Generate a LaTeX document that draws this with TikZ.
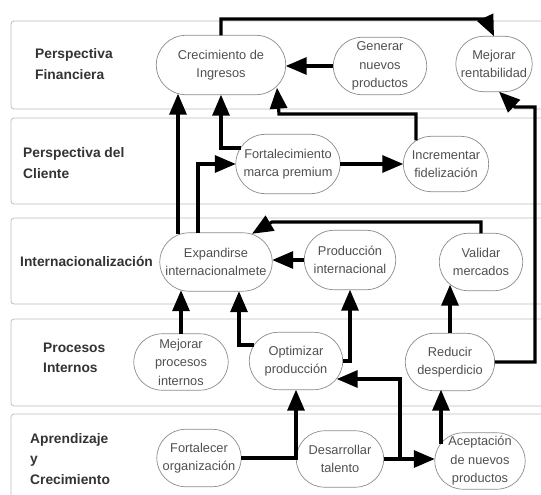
\documentclass[tikz,border=0pt]{standalone}
\usepackage{fontspec}
\setmainfont{Liberation Sans}
\usetikzlibrary{arrows.meta,calc}
\definecolor{lanegray}{HTML}{BDBDBD}
\definecolor{nodegray}{HTML}{8C8C8C}
\definecolor{txtgray}{HTML}{505050}
\definecolor{lanetxt}{HTML}{333333}

% stadium outline round a goal node
\newcommand\stadium[1]{%
  \draw[goalline] let \p1=(#1.north west), \p2=(#1.south east), \n1={(\y1-\y2)/2} in
    (\x1+\n1,\y1) -- (\x2-\n1,\y1) arc[start angle=90,end angle=-90,radius=\n1]
    -- (\x1+\n1,\y2) arc[start angle=270,end angle=90,radius=\n1] -- cycle;}

\begin{document}
\begin{tikzpicture}[x=1pt,y=-1pt,
    lane/.style={draw=lanegray,line width=0.8pt,rounded corners=3pt,fill=white},
    lanelabel/.style={anchor=west,align=left,inner sep=0pt,text=lanetxt,
        font={\fontsize{13.8}{20.5}\selectfont\bfseries}},
    goal/.style={align=center,inner sep=1pt,text=txtgray,
        font={\fontsize{12.8}{18.5}\selectfont}},
    goalline/.style={draw=nodegray,line width=0.7pt},
    flow/.style={line width=3.2pt,-{Triangle[length=21pt,width=17pt]}},
    ]
    \clip (0,0) rectangle (541,495);

    % Lanes
    \draw[lane] (11,21) rectangle (560,109);
    \draw[lane] (11,118) rectangle (560,204);
    \draw[lane] (11,218) rectangle (560,304);
    \draw[lane] (11,319) rectangle (560,406);
    \draw[lane] (11,414) rectangle (560,520);

    \node[lanelabel] (fin) at (35,64) {Perspectiva\\Financiera};
    \node[lanelabel] (cli) at (23,163) {Perspectiva del\\Cliente};
    \node[lanelabel] (int) at (20,262) {Internacionalización};
    \node[lanelabel] (pro) at (43,358) {Procesos\\Internos};
    \node[lanelabel] (apr) at (30,459) {Aprendizaje\\y\\Crecimiento};

    % Goals
    \node[goal,minimum width=129pt,minimum height=59pt] (crec) at (221,65) {Crecimiento de\\Ingresos};
    \node[goal,minimum width=93pt,minimum height=57pt] (gen) at (380,66) {Generar\\nuevos\\productos};
    \node[goal,minimum width=76pt,minimum height=55pt] (mej) at (494,64) {Mejorar\\rentabilidad};

    \node[goal,minimum width=104pt,minimum height=59pt] (fort) at (288,164) {Fortalecimiento\\marca premium};
    \node[goal,minimum width=85pt,minimum height=55pt] (incr) at (446,164) {Incrementar\\fidelización};

    \node[goal,minimum width=112pt,minimum height=58pt] (exp) at (216,262) {Expandirse\\internacionalmete};
    \node[goal,minimum width=91pt,minimum height=59pt] (prod) at (350,260) {Producción\\internacional};
    \node[goal,minimum width=83pt,minimum height=57pt] (val) at (481,262) {Validar\\mercados};

    \node[goal,minimum width=94pt,minimum height=56pt] (mejp) at (181,362) {Mejorar\\procesos\\internos};
    \node[goal,minimum width=93pt,minimum height=57pt] (opt) at (296,361) {Optimizar\\producción};
    \node[goal,minimum width=89pt,minimum height=57pt] (red) at (450,362) {Reducir\\desperdicio};

    \node[goal,minimum width=84pt,minimum height=57pt] (forg) at (199,458) {Fortalecer\\organización};
    \node[goal,minimum width=87pt,minimum height=56pt] (des) at (340,459) {Desarrollar\\talento};
    \node[goal,minimum width=90pt,minimum height=56pt] (acep) at (480,461) {Aceptación\\de nuevos\\productos};

    \foreach \g in {crec,gen,mej,fort,incr,exp,prod,val,mejp,opt,red,forg,des,acep}
        \stadium{\g};

    % Bends
    \coordinate (topbend) at (486,19);
    \coordinate (rightbend) at (535,107);
    \coordinate (rightkink) at (515,107);
    \coordinate (incrbend) at (279,114);
    \coordinate (valbend) at (272,222);
    \coordinate (talentbend) at (400,459);

    % Financiera
    \draw[flow] (crec.north) |- (topbend) -- (mej.north);
    \draw[flow] (gen.west) -- (gen.west -| crec.east);
    \draw[flow] (red.east) -| (rightbend) -- (rightkink) -- ($(mej.south)+(5,0)$);

    % Cliente
    \draw[flow] ($(exp.north)+(-38,1)$) coordinate (expleft) -- ($(expleft |- crec.south)+(0,-1)$);
    \draw[flow] ($(fort.west)+(5,-16)$) -| (crec.south);
    \draw[flow] ($(incr.north)+(-30,4)$) |- (incrbend) -- ($(crec.south)+(56,-7)$);
    \draw[flow] (fort.east) -- (incr.west);
    \draw[flow] ($(exp.north)+(-18,0)$) |- (fort.west);

    % Internacionalizacion
    \draw[flow] (val.north) |- (valbend) -- ($(exp.north)+(36,1)$);
    \draw[flow] (prod.west) -- (prod.west -| exp.east);

    % Procesos internos
    \draw[flow] (mejp.north) -- ($(mejp.north |- exp.south)+(0,-1)$);
    \draw[flow] ($(opt.west)+(5,-16)$) -| ($(exp.south)+(23,0)$);
    \draw[flow] (opt.east) -| (prod.south);
    \draw[flow] (red.north) -- ($(red.north |- val.south)+(0,-6)$);

    % Aprendizaje
    \draw[flow] (forg.east) -| (opt.south);
    \draw[flow] (des.east) -- (des.east -| acep.west);
    \draw[flow] (des.east) -- (talentbend) |- ($(opt.east)+(-6,18)$);
    \draw[flow] ($(acep.north)+(-39,11)$) coordinate (aceptop) -- ($(aceptop |- red.south)+(0,-1)$);

\end{tikzpicture}
\end{document}
